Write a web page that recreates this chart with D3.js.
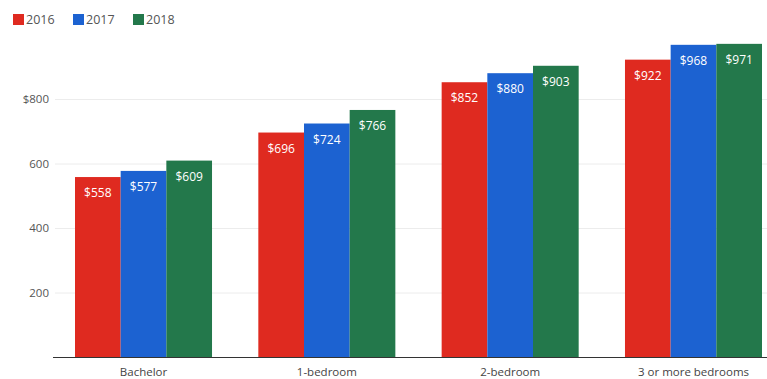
<!DOCTYPE html>
<html>
<head>
<meta charset="utf-8">
<script src="https://cdn.jsdelivr.net/npm/d3@7"></script>
<style>
  body { margin: 0; background: #fff; }
  svg { font-family: "Open Sans", "Noto Sans", sans-serif; }
</style>
</head>
<body>
<svg class="chart" width="767" height="379"></svg>
<script>
var categories = ["Bachelor", "1-bedroom", "2-bedroom", "3 or more bedrooms"];
var years = ["2016", "2017", "2018"];
var v2016 = [558, 696, 852, 922];
var v2017 = [577, 724, 880, 968];
var v2018 = [609, 766, 903, 971];
var yTicks = [200, 400, 600, 800];
var colors = ["#df2a20", "#1c62d1", "#23784b"];

var series = [v2016, v2017, v2018];
var data = categories.map(function(c, i) {
  return { cat: c, values: years.map(function(y, j) { return { year: y, v: series[j][i] }; }) };
});

var svg = d3.select(".chart");

var y = d3.scaleLinear().domain([0, 1000]).range([357, 34.5]);
var x0 = d3.scaleBand().domain(categories).range([75, 762]).paddingInner(0.2526).paddingOuter(0);
var x1 = d3.scaleBand().domain(years).range([0, x0.bandwidth()]);
var color = d3.scaleOrdinal().domain(years).range(colors);

// faint gridlines
svg.append("g")
  .selectAll("line")
  .data(yTicks)
  .enter().append("line")
  .attr("x1", 55).attr("x2", 767)
  .attr("y1", function(d) { return y(d) + 0.5; })
  .attr("y2", function(d) { return y(d) + 0.5; })
  .attr("stroke", "#ececec");

// y tick labels
svg.append("g")
  .selectAll("text")
  .data(yTicks)
  .enter().append("text")
  .attr("x", 49)
  .attr("y", function(d) { return y(d); })
  .attr("dy", "0.35em")
  .attr("text-anchor", "end")
  .attr("font-size", 11.5)
  .attr("fill", "#555")
  .text(function(d) { return d == 800 ? "$" + d : d; });

// bars
var g = svg.append("g").selectAll("g")
  .data(data)
  .enter().append("g")
  .attr("transform", function(d) { return "translate(" + x0(d.cat) + ",0)"; });

g.selectAll("rect")
  .data(function(d) { return d.values; })
  .enter().append("rect")
  .attr("x", function(d) { return x1(d.year); })
  .attr("width", x1.bandwidth())
  .attr("y", function(d) { return y(d.v); })
  .attr("height", function(d) { return y(0) - y(d.v); })
  .attr("fill", function(d) { return color(d.year); });

g.selectAll("text")
  .data(function(d) { return d.values; })
  .enter().append("text")
  .attr("x", function(d) { return x1(d.year) + x1.bandwidth() / 2; })
  .attr("y", function(d) { return y(d.v) + 20; })
  .attr("text-anchor", "middle")
  .attr("font-size", 12)
  .attr("fill", "#fff")
  .text(function(d) { return "$" + d.v; });

// x axis
var xAxis = svg.append("g")
  .attr("transform", "translate(0," + y(0) + ")")
  .call(d3.axisBottom(x0).tickSize(0).tickPadding(11));
xAxis.select(".domain").attr("d", "M53,0.5H767").attr("stroke", "#333");
xAxis.selectAll("text")
  .attr("font-family", "\"Open Sans\", sans-serif")
  .attr("font-size", 11.5)
  .attr("fill", "#444");

// legend
var lg = svg.append("g").selectAll("g")
  .data(years)
  .enter().append("g")
  .attr("transform", function(d, i) { return "translate(" + (13 + i * 60) + ",14)"; });
lg.append("rect")
  .attr("width", 11).attr("height", 11)
  .attr("fill", function(d) { return color(d); });
lg.append("text")
  .attr("x", 13).attr("y", 6)
  .attr("dy", "0.35em")
  .attr("font-size", 12.5)
  .attr("fill", "#555")
  .text(String);
</script>
</body>
</html>
